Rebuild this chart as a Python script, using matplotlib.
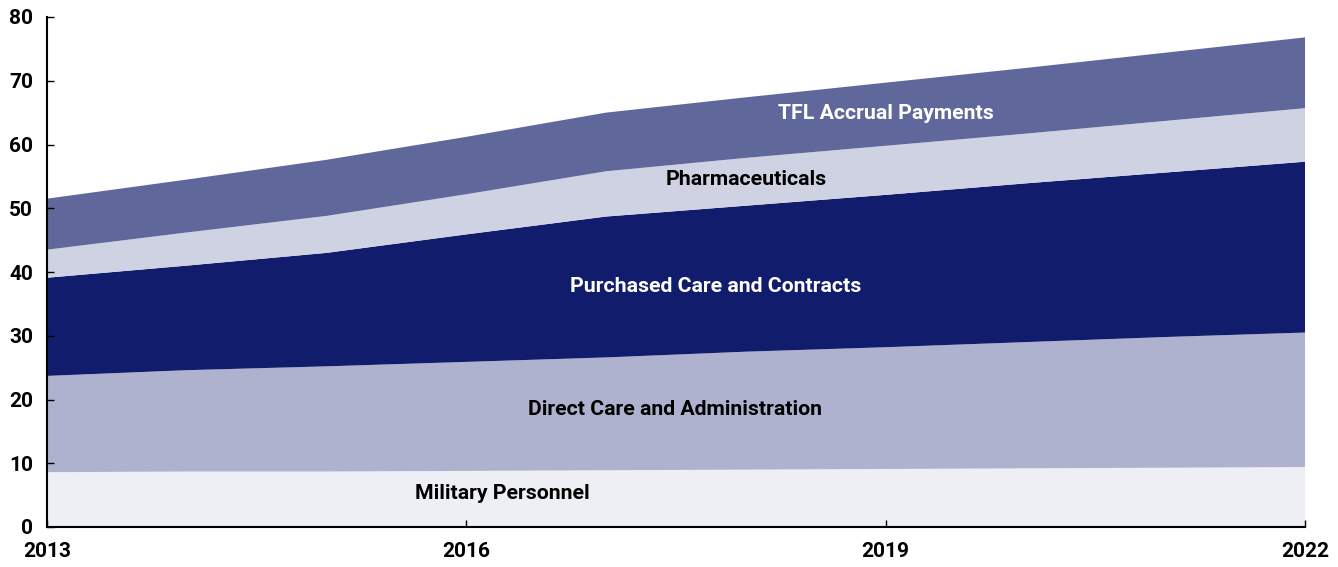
import matplotlib
matplotlib.use("Agg")
import matplotlib.pyplot as plt
import numpy as np

years = [2013, 2014, 2015, 2016, 2017, 2018, 2019, 2020, 2021, 2022]
military = [8.6, 8.7, 8.7, 8.8, 8.9, 9.0, 9.1, 9.2, 9.3, 9.4]
direct_care = [15.1, 15.9, 16.5, 17.1, 17.7, 18.5, 19.1, 19.8, 20.5, 21.1]
purchased = [15.4, 16.4, 17.8, 20.0, 22.1, 22.9, 23.9, 24.9, 25.8, 26.8]
pharma = [4.4, 5.2, 5.8, 6.3, 7.1, 7.5, 7.7, 7.8, 8.1, 8.4]
tfl = [8.0, 8.3, 8.8, 9.0, 9.2, 9.5, 9.9, 10.3, 10.7, 11.1]

series_names = ["Military Personnel", "Direct Care and Administration",
                "Purchased Care and Contracts", "Pharmaceuticals",
                "TFL Accrual Payments"]
colors = ["#EEEFF5", "#AEB2CE", "#111D6C", "#CFD2E3", "#60679B"]
label_colors = ["black", "black", "white", "black", "white"]
label_pos = [(2016.26, 5.2), (2017.49, 18.4), (2017.78, 37.7), (2018.0, 54.5), (2019.0, 64.8)]

xticks = [2013, 2016, 2019, 2022]
yticks = [0, 10, 20, 30, 40, 50, 60, 70, 80]

FONT = ["Roboto", "DejaVu Sans"]
plt.rcParams['font.family'] = FONT

fig = plt.figure(figsize=(13.38, 5.67), dpi=100)
ax = fig.add_axes([47/1338, 1-527/567, (1305-47)/1338, (527-17)/567])

ax.stackplot(years, military, direct_care, purchased, pharma, tfl,
             colors=colors, linewidth=0)

for name, (x, y), c in zip(series_names, label_pos, label_colors):
    ax.text(x, y, name, ha="center", va="center", color=c,
            fontsize=15.3, fontweight="bold")

ax.set_xlim(2013, 2022)
ax.set_ylim(0, 80)
ax.set_xticks(xticks)
ax.set_xticklabels([str(t) for t in xticks])
ax.set_yticks(yticks)
ax.set_yticklabels([str(t) for t in yticks])
for sp in ["top", "right"]:
    ax.spines[sp].set_visible(False)
for sp in ["left", "bottom"]:
    ax.spines[sp].set_linewidth(1.5)
    ax.spines[sp].set_color("black")
ax.tick_params(axis="both", direction="in", length=5, width=1, labelsize=15)
ax.tick_params(axis="x", pad=11)
ax.tick_params(axis="y", pad=10)
for lbl in ax.get_xticklabels() + ax.get_yticklabels():
    lbl.set_fontweight("bold")

fig.savefig("out.png", dpi=100)
